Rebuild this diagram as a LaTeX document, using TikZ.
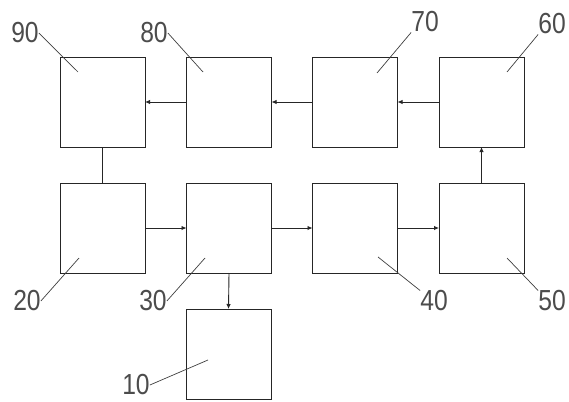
\documentclass[tikz,border=0pt]{standalone}
\usepackage{fontspec}
\setsansfont{Liberation Sans}
\usetikzlibrary{arrows.meta}
\begin{document}
\begin{tikzpicture}[x=1pt,y=-1pt,
  blk/.style={draw=black!85,line width=0.9pt,minimum width=85pt,minimum height=90pt,inner sep=0pt,outer sep=0pt},
  conn/.style={draw=black!85,line width=0.9pt},
  arr/.style={conn,-{Latex[length=5pt,width=4.5pt]}},
  lbl/.style={font=\sffamily\fontsize{29}{29}\selectfont,text=black!70,inner sep=0pt,xscale=0.85},
  lead/.style={draw=black!75,line width=0.7pt}]
\fill[white] (0,0) rectangle (569,401);
\useasboundingbox (0,0) rectangle (569,401);
% boxes
\node[blk] (b90) at (102.5,102) {};
\node[blk] (b80) at (229,102) {};
\node[blk] (b70) at (355,102) {};
\node[blk] (b60) at (481.5,102) {};
\node[blk] (b20) at (102.5,228) {};
\node[blk] (b30) at (229,228) {};
\node[blk] (b40) at (355,228) {};
\node[blk] (b50) at (481.5,228) {};
\node[blk] (b10) at (228.5,354) {};
% connectors
\draw[conn] (b90.south) -- (b20.north);
\draw[arr] (b80.west) -- (b90.east);
\draw[arr] (b70.west) -- (b80.east);
\draw[arr] (b60.west) -- (b70.east);
\draw[arr] (b50.north) -- (b60.south);
\draw[arr] (b20.east) -- (b30.west);
\draw[arr] (b30.east) -- (b40.west);
\draw[arr] (b40.east) -- (b50.west);
\draw[arr] (b30.south) -- (b10.north);
% labels
\node[lbl] (l90) at (25,33) {90};
\node[lbl] (l80) at (154,33) {80};
\node[lbl] (l70) at (425,22) {70};
\node[lbl] (l60) at (552,24) {60};
\node[lbl] (l20) at (27,301) {20};
\node[lbl] (l30) at (153,301) {30};
\node[lbl] (l40) at (434,301) {40};
\node[lbl] (l50) at (552,301) {50};
\node[lbl] (l10) at (136,385) {10};
% leader ends
\coordinate (c90) at (78,72);
\coordinate (c80) at (203,72);
\coordinate (c70) at (377,73);
\coordinate (c60) at (507,72);
\coordinate (c20) at (79,258);
\coordinate (c30) at (205,258);
\coordinate (c40) at (378,257);
\coordinate (c50) at (507,258);
\coordinate (c10) at (208,360);
\draw[lead] (l90.east) -- (c90);
\draw[lead] (l80.east) -- (c80);
\draw[lead] (l70.south west) -- (c70);
\draw[lead] (l60.south west) -- (c60);
\draw[lead] (l20.east) -- (c20);
\draw[lead] (l30.east) -- (c30);
\draw[lead] (l40.north west) -- (c40);
\draw[lead] (l50.north west) -- (c50);
\draw[lead] (l10.east) -- (c10);
\end{tikzpicture}
\end{document}
